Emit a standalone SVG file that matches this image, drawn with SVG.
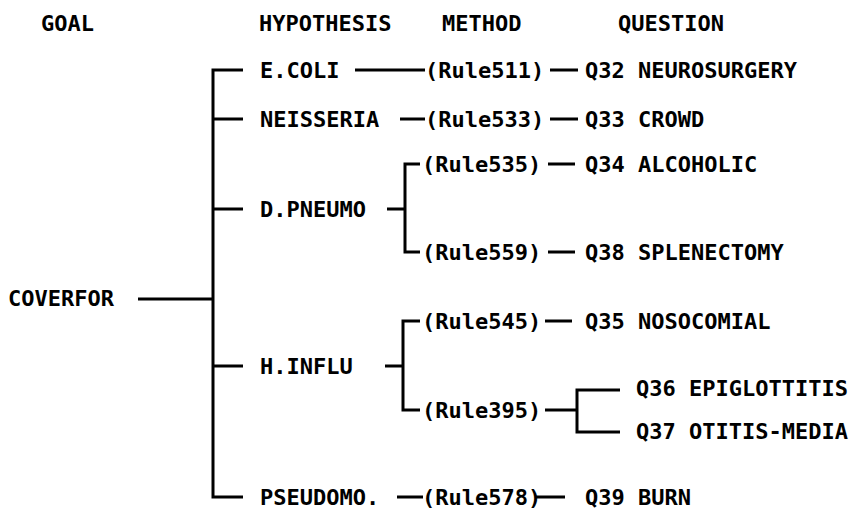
<svg xmlns="http://www.w3.org/2000/svg" width="858" height="509" viewBox="0 0 858 509">
<style>
text{font-family:"DejaVu Sans Mono","Liberation Mono",monospace;font-weight:bold;font-size:22px;fill:#000}
.c{fill:none;stroke:#000;stroke-width:3;stroke-linecap:butt;stroke-linejoin:miter}
</style>
<rect width="858" height="509" fill="#fff"/>
<g id="headers">
<text x="41" y="31">GOAL</text>
<text x="259" y="31">HYPOTHESIS</text>
<text x="442" y="31">METHOD</text>
<text x="618" y="31">QUESTION</text>
</g>
<g id="connectors" class="c">
<path d="M138 299H213"/>
<path d="M243 70H213V497H243"/>
<path d="M213 119H243M213 209H243M213 366H243"/>
<path d="M355 70H425M400 119H425"/>
<path d="M550 70H578M550 119H578"/>
<path d="M387 209H405M420 164H405V252H420"/>
<path d="M548 164H575M548 252H575"/>
<path d="M385 366H403M420 321H403V410H420"/>
<path d="M545 321H572"/>
<path d="M545 410H577M620 390H577V432H620"/>
<path d="M397 497H423M535 497H565"/>
</g>
<g id="goal"><text x="8" y="306">COVERFOR</text></g>
<g id="h-ecoli"><text x="260" y="78">E.COLI</text></g>
<g id="h-neisseria"><text x="260" y="127">NEISSERIA</text></g>
<g id="h-dpneumo"><text x="260" y="217">D.PNEUMO</text></g>
<g id="h-hinflu"><text x="260" y="374">H.INFLU</text></g>
<g id="h-pseudomo"><text x="260" y="505">PSEUDOMO.</text></g>
<g id="m-rule511"><text x="425" y="78">(Rule511)</text></g>
<g id="m-rule533"><text x="425" y="127">(Rule533)</text></g>
<g id="m-rule535"><text x="422" y="172">(Rule535)</text></g>
<g id="m-rule559"><text x="422" y="260">(Rule559)</text></g>
<g id="m-rule545"><text x="422" y="329">(Rule545)</text></g>
<g id="m-rule395"><text x="422" y="418">(Rule395)</text></g>
<g id="m-rule578"><text x="422" y="505">(Rule578)</text></g>
<g id="q32"><text x="585" y="78">Q32 NEUROSURGERY</text></g>
<g id="q33"><text x="585" y="127">Q33 CROWD</text></g>
<g id="q34"><text x="585" y="172">Q34 ALCOHOLIC</text></g>
<g id="q38"><text x="585" y="260">Q38 SPLENECTOMY</text></g>
<g id="q35"><text x="585" y="329">Q35 NOSOCOMIAL</text></g>
<g id="q36"><text x="636" y="396">Q36 EPIGLOTTITIS</text></g>
<g id="q37"><text x="636" y="439">Q37 OTITIS-MEDIA</text></g>
<g id="q39"><text x="585" y="505">Q39 BURN</text></g>
</svg>
